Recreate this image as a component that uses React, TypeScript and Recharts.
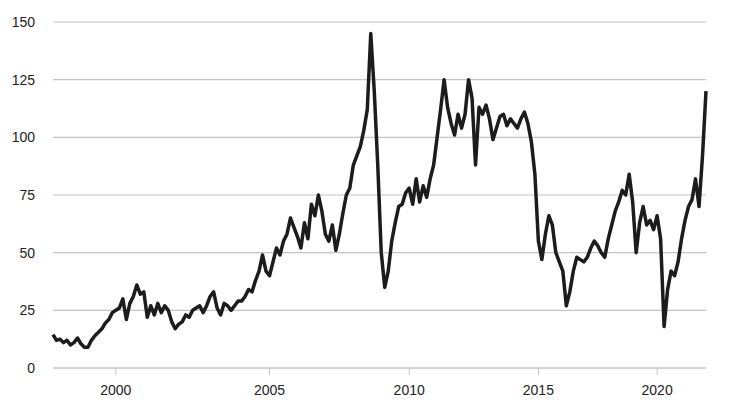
import React from 'react';
import { LineChart, Line, XAxis, YAxis, CartesianGrid } from 'recharts';

// Brent-style weekly price; one array per block of years
const seg1998 = [14.5, 12, 12.5, 11, 12, 10, 11, 13, 10.5, 9, 9, 12, 14, 15.5, 17, 19.5, 21, 24];
const seg2000 = [
  25, 26, 30, 21, 28, 31, 36, 32, 33, 22, 27, 23, 28, 24, 27, 25, 20, 17, 19, 20, 23, 22,
  25, 26, 27, 24, 27, 31, 33, 26, 23, 28, 27, 25, 27, 29, 29, 31, 34, 33, 38, 42, 49, 42,
];
const seg2005 = [
  40, 46, 52, 49, 55, 58, 65, 61, 57, 52, 63, 56, 71, 66, 75, 68, 58, 55, 62, 51,
  58, 67, 75, 78, 88, 92, 96, 103, 112, 145, 120, 88, 50, 35, 42, 55, 63, 70, 71, 76,
];
const seg2010 = [
  78, 71, 82, 72, 79, 74, 82, 88, 100, 112, 125, 113, 106, 101, 110, 104, 110, 125, 117,
  88, 113, 110, 114, 108, 99, 104, 109, 110, 105, 108, 106, 104, 108, 111, 106, 98, 84,
];
const seg2015 = [
  55, 47, 58, 66, 62, 50, 46, 42, 27, 33, 42, 48, 47, 46, 48, 52, 55,
  53, 50, 48, 56, 62, 68, 72, 77, 75, 84, 72, 50, 63, 70, 62, 64, 60,
];
const seg2020 = [66, 56, 18, 34, 42, 40, 46, 56, 64, 70, 73, 82, 70, 92, 120];

const segments = [seg1998, seg2000, seg2005, seg2010, seg2015, seg2020];
const segYears = [1998, 2000, 2005, 2010, 2015, 2020];
const yTicks = [0, 25, 50, 75, 100, 125, 150];

const data: { i: number; price: number }[] = [];
const yearStarts: { [idx: number]: number } = {};
segments.forEach((seg, s) => {
  yearStarts[data.length] = segYears[s];
  seg.forEach((v) => data.push({ i: data.length, price: v }));
});
const xTicks = Object.keys(yearStarts)
  .map(Number)
  .filter((idx) => yearStarts[idx] >= 2000);

const font = 'Arial, "Liberation Sans", sans-serif';
const gridColor = '#c4c4c4';

const App: React.FC = () => {
  return (
    <div style={{ position: 'absolute', left: 0, top: 0, background: '#fff' }}>
      <LineChart width={733} height={410} data={data} margin={{ top: 22, right: 27, left: 0, bottom: 12 }}>
        <CartesianGrid vertical={false} stroke={gridColor} strokeWidth={1.2} />
        <XAxis
          dataKey="i"
          type="number"
          domain={[0, data.length - 1]}
          ticks={xTicks}
          tickFormatter={(v: number) => String(yearStarts[v] ?? '')}
          axisLine={{ stroke: gridColor }}
          tickLine={{ stroke: gridColor }}
          tickSize={7}
          tickMargin={10}
          tick={{ fontSize: 14, fill: '#222', fontFamily: font }}
          height={30}
        />
        <YAxis
          domain={[0, 150]}
          ticks={yTicks}
          axisLine={false}
          tickLine={false}
          tickSize={0}
          tickMargin={18}
          width={53}
          tick={{ fontSize: 14, fill: '#222', fontFamily: font }}
        />
        <Line
          type="linear"
          dataKey="price"
          stroke="#1c1c1c"
          strokeWidth={3.5}
          strokeLinejoin="round"
          dot={false}
          isAnimationActive={false}
        />
      </LineChart>
    </div>
  );
};

export default App;
